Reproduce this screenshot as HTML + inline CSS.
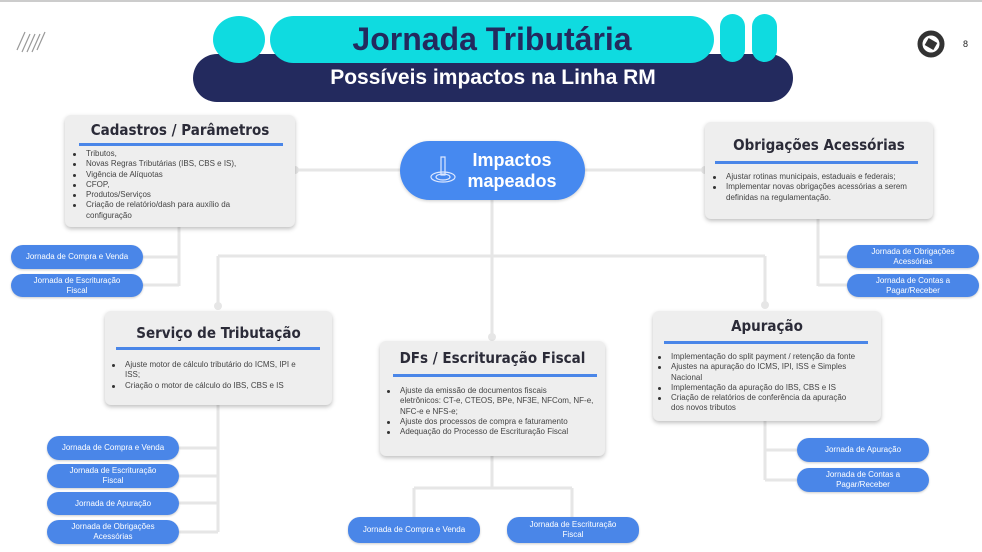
<!DOCTYPE html>
<html><head><meta charset="utf-8"><style>
*{margin:0;padding:0;box-sizing:border-box}
body{width:982px;height:552px;background:#fff;position:relative;overflow:hidden;font-family:"Liberation Sans",sans-serif}
.a{position:absolute}
.box{position:absolute;background:#eeeeee;border-radius:6px;box-shadow:0 2px 4px rgba(0,0,0,.25)}
.box h3{position:absolute;left:0;right:0;text-align:center;font-family:"DejaVu Sans Condensed","DejaVu Sans",sans-serif;font-weight:bold;font-size:15px;color:#2b2b38;white-space:nowrap}
.bar{position:absolute;height:3px;background:#4a86e8}
.box ul{position:absolute;font-size:8px;color:#444;line-height:10.3px;list-style:none}
.box li{position:relative;padding-left:15px}
.box li:before{content:"";position:absolute;left:2px;top:4px;width:3px;height:3px;border-radius:50%;background:#333}
.pill{position:absolute;width:132px;background:#4a86e8;border-radius:12px;color:#fff;font-size:8px;line-height:10px;display:flex;align-items:center;justify-content:center;text-align:center;box-shadow:0 1px 2px rgba(0,0,0,.2)}
</style></head><body>
<div class="a" style="left:0;top:0;width:982px;height:2px;background:#ccc"></div>
<svg class="a" style="left:0;top:0" width="982" height="552">
<g stroke="#e6e6e6" stroke-width="3" fill="none">
<path d="M295 170H400M584 170H705"/>
<path d="M179 227V286M179 257H143M179 285H143"/>
<path d="M818 219V286M818 257H979M818 285H979"/>
<path d="M492 200V338M218 256H765M218 256V308M765 256V308"/>
<path d="M218 405V532M218 448H179M218 476H179M218 503H179M218 532H179"/>
<path d="M492 456V488M414 488H572M414 488V517M572 488V517"/>
<path d="M765 421V480M765 450H797M765 480H797"/>
</g>
<g fill="#e6e6e6"><circle cx="295" cy="170" r="4"/><circle cx="705" cy="170" r="4"/><circle cx="218" cy="306" r="4"/><circle cx="765" cy="305" r="4"/><circle cx="492" cy="337" r="4"/></g>
<g stroke="#999" stroke-width="1.2" fill="none"><path d="M17 50L25 32M22 52L30 34M27 52L35 34M32 52L40 34M37 50L45 32"/></g>
<circle cx="931" cy="44" r="11" fill="none" stroke="#333" stroke-width="5"/>
<path d="M926 40L936 40L936 48L926 48Z" fill="#333" transform="rotate(30 931 44)"/>
</svg>
<div class="a" style="left:963px;top:39px;font-size:9px;color:#222">8</div>
<div class="a" style="left:193px;top:54px;width:600px;height:48px;background:#232a5e;border-radius:24px"></div>
<div class="a" style="left:213px;top:16px;width:52px;height:47px;background:#0fdbe0;border-radius:50%"></div>
<div class="a" style="left:270px;top:16px;width:444px;height:47px;background:#0fdbe0;border-radius:24px"></div>
<div class="a" style="left:720px;top:14px;width:25px;height:48px;background:#0fdbe0;border-radius:13px"></div>
<div class="a" style="left:752px;top:14px;width:25px;height:48px;background:#0fdbe0;border-radius:13px"></div>
<div class="a" style="left:270px;top:21px;width:444px;text-align:center;font-size:32px;line-height:36px;font-weight:bold;color:#232a5e">Jornada Tributária</div>
<div class="a" style="left:193px;top:66px;width:600px;text-align:center;font-size:21px;line-height:24px;font-weight:bold;color:#fff">Possíveis impactos na Linha RM</div>

<div class="a" style="left:400px;top:141px;width:185px;height:59px;background:#4689f0;border-radius:30px;box-shadow:0 1px 3px rgba(0,0,0,.2)"></div>
<svg class="a" style="left:428px;top:155px" width="30" height="32"><g stroke="#dde8ff" stroke-width="1.2" fill="none"><path d="M13 2H17V20H13Z"/><ellipse cx="15" cy="22" rx="12" ry="5"/><ellipse cx="15" cy="22" rx="7" ry="3"/></g></svg>
<div class="a" style="left:460px;top:150px;width:104px;text-align:center;font-size:18px;font-weight:bold;color:#fff;line-height:21px">Impactos<br>mapeados</div>

<div class="box" style="left:65px;top:115px;width:230px;height:112px">
<h3 style="top:6px">Cadastros / Parâmetros</h3><div class="bar" style="left:14px;top:28px;width:204px"></div>
<ul style="left:6px;top:34px;width:180px"><li>Tributos,</li><li>Novas Regras Tributárias (IBS, CBS e IS),</li><li>Vigência de Alíquotas</li><li>CFOP,</li><li>Produtos/Serviços</li><li>Criação de relatório/dash para auxílio da configuração</li></ul></div>

<div class="box" style="left:705px;top:122px;width:228px;height:97px">
<h3 style="top:14px">Obrigações Acessórias</h3><div class="bar" style="left:10px;top:39px;width:203px"></div>
<ul style="left:6px;top:50px;width:200px"><li>Ajustar rotinas municipais, estaduais e federais;</li><li>Implementar novas obrigações acessórias a serem definidas na regulamentação.</li></ul></div>

<div class="box" style="left:105px;top:311px;width:227px;height:94px">
<h3 style="top:13px">Serviço de Tributação</h3><div class="bar" style="left:11px;top:36px;width:204px"></div>
<ul style="left:5px;top:49px;width:200px"><li>Ajuste motor de cálculo tributário do ICMS, IPI e ISS;</li><li>Criação o motor de cálculo do IBS, CBS e IS</li></ul></div>

<div class="box" style="left:380px;top:341px;width:225px;height:115px">
<h3 style="top:8px">DFs / Escrituração Fiscal</h3><div class="bar" style="left:13px;top:33px;width:204px"></div>
<ul style="left:5px;top:45px;width:215px"><li>Ajuste da emissão de documentos fiscais<br>eletrônicos: CT-e, CTEOS, BPe, NF3E, NFCom, NF-e, NFC-e e NFS-e;</li><li>Ajuste dos processos de compra e faturamento</li><li>Adequação do Processo de Escrituração Fiscal</li></ul></div>

<div class="box" style="left:653px;top:311px;width:228px;height:110px">
<h3 style="top:6px">Apuração</h3><div class="bar" style="left:11px;top:30px;width:204px"></div>
<ul style="left:3px;top:41px;width:222px"><li>Implementação do split payment / retenção da fonte</li><li>Ajustes na apuração do ICMS, IPI, ISS e Simples<br>Nacional</li><li>Implementação da apuração do IBS, CBS e IS</li><li>Criação de relatórios de conferência da apuração<br>dos novos tributos</li></ul></div>

<div class="pill" style="left:11px;top:245px;height:24px">Jornada de Compra e Venda</div>
<div class="pill" style="left:11px;top:274px;height:23px">Jornada de Escrituração<br>Fiscal</div>
<div class="pill" style="left:847px;top:245px;height:23px">Jornada de Obrigações<br>Acessórias</div>
<div class="pill" style="left:847px;top:274px;height:23px">Jornada de Contas a<br>Pagar/Receber</div>
<div class="pill" style="left:47px;top:436px;height:24px">Jornada de Compra e Venda</div>
<div class="pill" style="left:47px;top:464px;height:24px">Jornada de Escrituração<br>Fiscal</div>
<div class="pill" style="left:47px;top:492px;height:23px">Jornada de Apuração</div>
<div class="pill" style="left:47px;top:520px;height:24px">Jornada de Obrigações<br>Acessórias</div>
<div class="pill" style="left:348px;top:517px;height:26px">Jornada de Compra e Venda</div>
<div class="pill" style="left:507px;top:517px;height:26px">Jornada de Escrituração<br>Fiscal</div>
<div class="pill" style="left:797px;top:438px;height:24px">Jornada de Apuração</div>
<div class="pill" style="left:797px;top:468px;height:24px">Jornada de Contas a<br>Pagar/Receber</div>
</body></html>
